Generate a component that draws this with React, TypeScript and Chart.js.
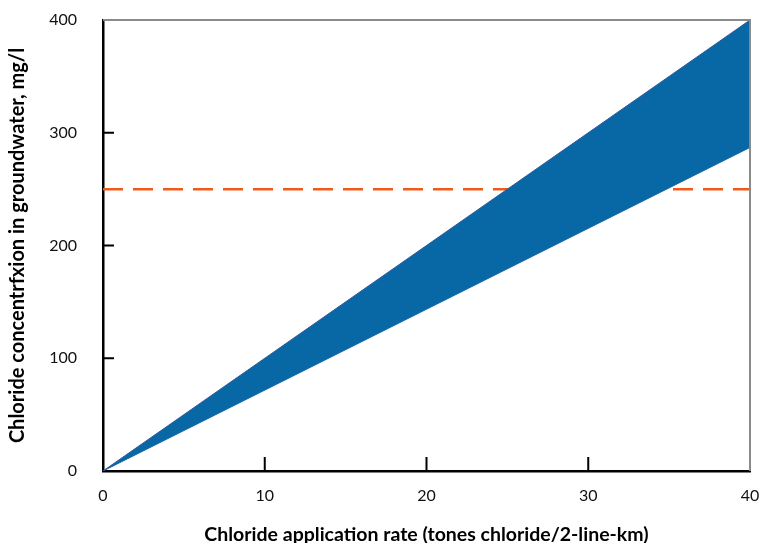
import React, { useEffect, useRef } from "react";
import { Chart, registerables } from "chart.js";

Chart.register(...registerables);

// Data
const applicationRate = [0, 40]; // tones chloride / 2-line-km
const upperConcentration = [0, 400]; // mg/l
const lowerConcentration = [0, 287]; // mg/l
const guidelineLevel = [250, 250]; // mg/l
const xTicks = [0, 10, 20, 30, 40];
const yTicks = [0, 100, 200, 300, 400];

const FONT = "Lato, 'Open Sans', sans-serif";

const frameAndTicks = {
  id: "frameAndTicks",
  afterDatasetsDraw(chart: any) {
    const { ctx, chartArea } = chart;
    const xs = chart.scales.x;
    const ys = chart.scales.y;
    ctx.save();
    // top & right frame (gray)
    ctx.strokeStyle = "#8a8a8a";
    ctx.lineWidth = 2;
    ctx.beginPath();
    ctx.moveTo(chartArea.left, chartArea.top);
    ctx.lineTo(chartArea.right, chartArea.top);
    ctx.lineTo(chartArea.right, chartArea.bottom);
    ctx.stroke();
    // inward ticks
    ctx.strokeStyle = "#000";
    ctx.lineWidth = 2;
    ctx.beginPath();
    xTicks.slice(1, -1).forEach((v) => {
      const px = xs.getPixelForValue(v);
      ctx.moveTo(px, chartArea.bottom);
      ctx.lineTo(px, chartArea.bottom - 14);
    });
    yTicks.slice(1, -1).forEach((v) => {
      const py = ys.getPixelForValue(v);
      ctx.moveTo(chartArea.left, py);
      ctx.lineTo(chartArea.left + 11, py);
    });
    ctx.stroke();
    ctx.restore();
  },
};

export default function App() {
  const ref = useRef<HTMLCanvasElement | null>(null);
  useEffect(() => {
    document.body.style.margin = "0";
    const canvas = ref.current!;
    const toPts = (ys: number[]) => applicationRate.map((x, i) => ({ x, y: ys[i] }));
    const chart = new Chart(canvas, {
      type: "line",
      data: {
        datasets: [
          {
            label: "Upper",
            data: toPts(upperConcentration),
            borderColor: "#2f5c9c",
            borderWidth: 1,
            backgroundColor: "#0868a5",
            fill: "+1",
            pointRadius: 0,
            tension: 0,
          },
          {
            label: "Lower",
            data: toPts(lowerConcentration),
            borderColor: "#2f5c9c",
            borderWidth: 1,
            backgroundColor: "#0868a5",
            fill: false,
            pointRadius: 0,
            tension: 0,
          },
          {
            label: "Guideline",
            data: toPts(guidelineLevel),
            borderColor: "#f05a1c",
            borderWidth: 2.5,
            borderDash: [20, 10],
            fill: false,
            pointRadius: 0,
          },
        ],
      },
      options: {
        animation: false,
        responsive: false,
        maintainAspectRatio: false,
        layout: { padding: { left: 0, right: 9, top: 20, bottom: 0 } },
        plugins: { legend: { display: false }, tooltip: { enabled: false } },
        scales: {
          x: {
            type: "linear",
            min: 0,
            max: 40,
            afterBuildTicks: (s: any) => {
              s.ticks = xTicks.map((v) => ({ value: v }));
            },
            afterFit: (s: any) => {
              s.height = 72;
              s.paddingLeft = 0;
              s.paddingRight = 0;
            },
            grid: { display: false, drawTicks: false },
            border: { display: true, color: "#000", width: 2.5 },
            ticks: {
              color: "#111",
              font: { family: FONT, size: 16 },
              padding: 15,
              maxRotation: 0,
            },
            title: {
              display: true,
              text: "Chloride application rate (tones chloride/2-line-km)",
              color: "#000",
              font: { family: FONT, size: 19.5, weight: "bold" },
              padding: { top: 4, bottom: -3 },
            },
          },
          y: {
            type: "linear",
            min: 0,
            max: 400,
            afterBuildTicks: (s: any) => {
              s.ticks = yTicks.map((v) => ({ value: v }));
            },
            afterFit: (s: any) => {
              s.width = 103;
              s.paddingTop = 0;
              s.paddingBottom = 0;
            },
            grid: { display: false, drawTicks: false },
            border: { display: true, color: "#000", width: 2.5 },
            ticks: {
              color: "#111",
              font: { family: FONT, size: 16 },
              padding: 26,
            },
            title: {
              display: true,
              text: "Chloride concentrfxion in groundwater, mg/l",
              color: "#000",
              font: { family: FONT, size: 20, weight: "bold" },
              padding: { top: 6, bottom: 0 },
            },
          },
        },
      },
      plugins: [frameAndTicks],
    });
    return () => chart.destroy();
  }, []);
  return (
    <div style={{ position: "fixed", left: 0, top: 0, width: 759, height: 543, background: "#fff" }}>
      <canvas ref={ref} width={759} height={543} style={{ width: 759, height: 543, display: "block" }} />
    </div>
  );
}
